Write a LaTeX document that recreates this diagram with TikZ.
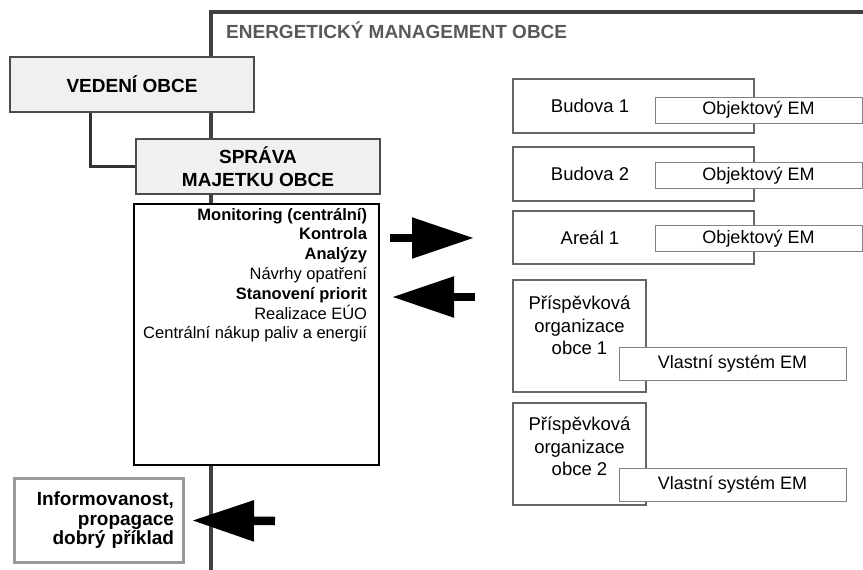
\documentclass[tikz,border=0pt]{standalone}
\usepackage{fontspec}
\setmainfont{Liberation Sans}
\usetikzlibrary{arrows.meta,positioning}

\begin{document}
\begin{tikzpicture}[x=1pt,y=-1pt]
    \tikzset{hlavni box/.style={draw=black!70,line width=2.5pt,fill=black!6,minimum width=244pt,
            minimum height=55pt,inner sep=0pt,align=center,font=\bfseries\fontsize{19}{23}\selectfont}}
    \tikzset{objekt box/.style={draw=black!60,line width=2.5pt,fill=white,inner sep=0pt}}
    \tikzset{em box/.style={draw=black!50,line width=1pt,fill=white,inner sep=0pt,
            font=\fontsize{18}{22}\selectfont}}
    \tikzset{popis/.style={inner sep=0pt,align=center,font=\fontsize{18.5}{22.5}\selectfont}}
    \tikzset{sipka/.style={line width=8.5pt,-{Triangle[length=62pt,width=39pt]}}}

    \useasboundingbox (0,0) rectangle (863,570);
    \draw[line width=3.5pt,black!75] (863,12) -| (211,570);
    \node[anchor=west,inner sep=0pt,text=black!65,font=\bfseries\fontsize{19}{23}\selectfont] (nadpis) at (226,30) {ENERGETICKÝ MANAGEMENT OBCE};

    \node[hlavni box] (vedeni) at (132,84.5) {VEDENÍ OBCE};
    \node[hlavni box] (sprava) at (258,166.5) {SPRÁVA\\MAJETKU OBCE};
    \draw[line width=3pt,black!80] ([xshift=-42pt]vedeni.south) |- (sprava.west);

    \node[draw,line width=2.5pt,fill=white,minimum width=245pt,minimum height=261pt] (cinnosti) at (256.5,334.5) {};
    \node[anchor=north east,align=right,inner sep=0pt,font=\fontsize{16.5}{19.8}\selectfont] (ukoly)
        at ([xshift=-13pt,yshift=-5pt]cinnosti.north east)
        {\textbf{Monitoring (centrální)}\\\textbf{Kontrola}\\\textbf{Analýzy}\\Návrhy opatření\\
         \textbf{Stanovení priorit}\\Realizace EÚO\\Centrální nákup paliv a energií};

    \node[objekt box,minimum width=241pt,minimum height=54pt] (budova1) at (633.5,106) {};
    \node[objekt box,minimum width=241pt,minimum height=54pt] (budova2) at (633.5,174) {};
    \node[objekt box,minimum width=241pt,minimum height=53pt] (areal1) at (633.5,237.5) {};
    \node[popis] (tbudova1) at (590,106) {Budova 1};
    \node[popis] (tbudova2) at (590,174) {Budova 2};
    \node[popis] (tareal1) at (590,237.5) {Areál 1};
    \node[em box,minimum width=207pt,minimum height=26pt] (em1) at (758.5,110) {Objektový EM};
    \node[em box,minimum width=207pt,minimum height=26pt] (em2) at (758.5,175.5) {Objektový EM};
    \node[em box,minimum width=207pt,minimum height=26pt] (em3) at (758.5,238.5) {Objektový EM};

    \node[objekt box,minimum width=133pt,minimum height=112pt] (po1) at (579.5,336) {};
    \node[objekt box,minimum width=133pt,minimum height=102pt] (po2) at (579.5,454) {};
    \node[popis,anchor=north] (tpo1) at (579.5,296) {Příspěvková\\organizace\\obce 1};
    \node[popis,anchor=north] (tpo2) at (579.5,417) {Příspěvková\\organizace\\obce 2};
    \node[em box,minimum width=227pt,minimum height=33pt] (system1) at (732.5,363.5) {Vlastní systém EM};
    \node[em box,minimum width=227pt,minimum height=33pt] (system2) at (732.5,485) {Vlastní systém EM};

    \node[draw=black!40,line width=3pt,fill=white,minimum width=169pt,minimum height=84pt,inner sep=0pt,
        text width=150pt,align=right,font=\bfseries\fontsize{19}{19.5}\selectfont] (informovanost) at (99,520.5)
        {Informovanost,\\propagace\\dobrý příklad};

    \coordinate (s1a) at (390,238);
    \coordinate (s1b) at (474,238);
    \coordinate (s2a) at (475,297);
    \coordinate (s2b) at (392,297);
    \coordinate (s3a) at (275,521);
    \draw[sipka] (s1a) -- (s1b);
    \draw[sipka] (s2a) -- (s2b);
    \draw[sipka] (s3a) -- (informovanost.east -| 192,0);
\end{tikzpicture}
\end{document}
